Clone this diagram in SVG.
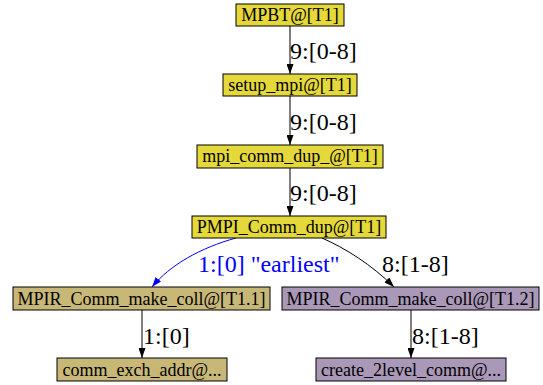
<svg xmlns="http://www.w3.org/2000/svg" width="543" height="385" viewBox="0 0 543 385">
<style>
.n rect{stroke:#000;stroke-width:1}
.y rect{fill:#e5d83a}
.k rect{fill:#c8b878}
.p rect{fill:#aa98b8}
.n text{font-family:"Liberation Serif","Times New Roman",serif;font-size:18px;fill:#000;text-anchor:middle}
.e path{fill:none;stroke:#000;stroke-width:1}
.l{font-family:"Liberation Serif","Times New Roman",serif;font-size:24px;fill:#000}
</style>
<defs>
<marker id="a" viewBox="0 0 10 7" refX="10" refY="3.5" markerWidth="10" markerHeight="7" markerUnits="userSpaceOnUse" orient="auto"><path d="M0,0L10,3.5L0,7z" fill="#000"/></marker>
<marker id="b" viewBox="0 0 10 7" refX="10" refY="3.5" markerWidth="10" markerHeight="7" markerUnits="userSpaceOnUse" orient="auto"><path d="M0,0L10,3.5L0,7z" fill="#00f"/></marker>
</defs>
<rect width="543" height="385" fill="#fff"/>
<g class="e" id="edges">
<path d="M290,26V74" marker-end="url(#a)"/>
<path d="M290,96V145" marker-end="url(#a)"/>
<path d="M290,168V216" marker-end="url(#a)"/>
<path d="M236,238C200,248 170,265 152,287" style="stroke:#00f" marker-end="url(#b)"/>
<path d="M322,238C345,248 372,265 394,287" marker-end="url(#a)"/>
<path d="M142,310V358" marker-end="url(#a)"/>
<path d="M411,310V358" marker-end="url(#a)"/>
<text class="l" x="290" y="59">9:[0-8]</text>
<text class="l" x="290" y="130">9:[0-8]</text>
<text class="l" x="290" y="201">9:[0-8]</text>
<text class="l" x="198" y="272" style="fill:#00f">1:[0] "earliest"</text>
<text class="l" x="382" y="272">8:[1-8]</text>
<text class="l" x="143" y="344">1:[0]</text>
<text class="l" x="412" y="344">8:[1-8]</text>
</g>
<g id="n1" class="n y"><rect x="236" y="4" width="108" height="22"/><text x="290" y="21">MPBT@[T1]</text></g>
<g id="n2" class="n y"><rect x="223" y="74" width="134" height="22"/><text x="290" y="91">setup_mpi@[T1]</text></g>
<g id="n3" class="n y"><rect x="197" y="145" width="186" height="23"/><text x="290" y="162">mpi_comm_dup_@[T1]</text></g>
<g id="n4" class="n y"><rect x="192" y="216" width="194" height="22"/><text x="289" y="233">PMPI_Comm_dup@[T1]</text></g>
<g id="n5" class="n k"><rect x="13" y="287" width="257" height="23"/><text x="141.5" y="305">MPIR_Comm_make_coll@[T1.1]</text></g>
<g id="n6" class="n k"><rect x="57" y="358" width="170" height="23"/><text x="142" y="376">comm_exch_addr@...</text></g>
<g id="n7" class="n p"><rect x="282" y="287" width="257" height="23"/><text x="410.5" y="305">MPIR_Comm_make_coll@[T1.2]</text></g>
<g id="n8" class="n p"><rect x="316" y="358" width="190" height="23"/><text x="411" y="376">create_2level_comm@...</text></g>
</svg>
